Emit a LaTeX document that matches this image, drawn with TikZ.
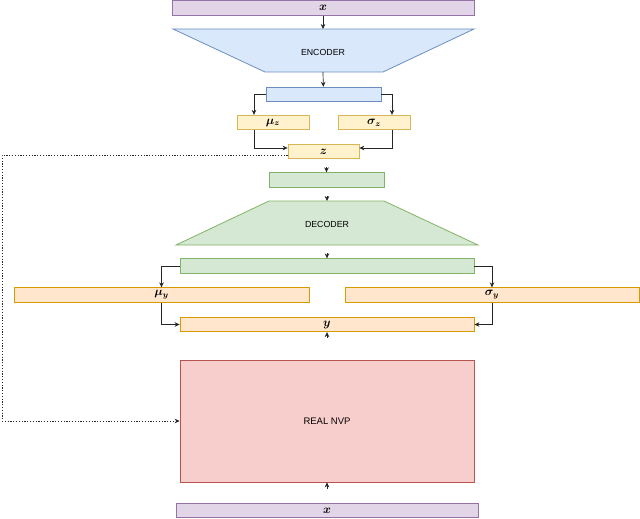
\documentclass[tikz,border=0pt]{standalone}
\usepackage{fontspec}
\setmainfont{Liberation Sans}
\usetikzlibrary{arrows.meta}
\definecolor{purplefill}{HTML}{E1D5E7}
\definecolor{purpleline}{HTML}{9673A6}
\definecolor{bluefill}{HTML}{DAE8FC}
\definecolor{blueline}{HTML}{6C8EBF}
\definecolor{greenfill}{HTML}{D5E8D4}
\definecolor{greenline}{HTML}{82B366}
\definecolor{yellowfill}{HTML}{FFF2CC}
\definecolor{yellowline}{HTML}{D6B656}
\definecolor{orangefill}{HTML}{FFE6CC}
\definecolor{orangeline}{HTML}{D79B00}
\definecolor{redfill}{HTML}{F8CECC}
\definecolor{redline}{HTML}{B85450}
\tikzset{
  bar/.style={draw, line width=0.8pt, inner sep=0pt, minimum height=14.5pt, font=\fontsize{12}{14}\selectfont\boldmath},
  inputbar/.style={bar, fill=purplefill, draw=purpleline},
  encbar/.style={bar, fill=bluefill, draw=blueline},
  latentbar/.style={bar, fill=yellowfill, draw=yellowline},
  decbar/.style={bar, fill=greenfill, draw=greenline},
  outbar/.style={bar, fill=orangefill, draw=orangeline},
  label/.style={font=\fontsize{8.8}{10}\selectfont, inner sep=0pt},
  link/.style={->, line width=0.7pt, draw=black!85}
}
\begin{document}
\begin{tikzpicture}[x=1pt, y=-1pt, >={Stealth[length=5pt,width=4.6pt]}]
\useasboundingbox (0,0) rectangle (640,519);
% encoder part
\node[inputbar, minimum width=302pt] (xtop) at (323,8) {$x$};
\filldraw[fill=bluefill, draw=blueline, line width=0.8pt] (173,29) -- (474,29) -- (383,72) -- (265,72) -- cycle;
\node[label] (enc) at (323,52) {ENCODER};
\coordinate (enctop) at (323,29);
\coordinate (encbot) at (323,72);
\node[encbar, minimum width=115pt] (encout) at (323.5,94.5) {};
\node[latentbar, minimum width=72pt] (muz) at (273,122.5) {$\mu_z$};
\node[latentbar, minimum width=72pt] (sigz) at (374,122.5) {$\sigma_z$};
\node[latentbar, minimum width=71pt] (z) at (323.5,151.5) {$z$};
% decoder part
\node[decbar, minimum width=115pt] (dec1) at (326.5,180) {};
\filldraw[fill=greenfill, draw=greenline, line width=0.8pt] (269,201) -- (384,201) -- (478,245) -- (176,245) -- cycle;
\node[label] (dec) at (327,224) {DECODER};
\coordinate (dectop) at (327,201);
\coordinate (decbot) at (327,245);
\node[decbar, minimum width=294pt] (dec2) at (327,266) {};
\node[outbar, minimum width=295pt] (muy) at (161.5,295) {$\mu_y$};
\node[outbar, minimum width=294pt] (sigy) at (492,295) {$\sigma_y$};
\node[outbar, minimum width=294pt] (y) at (327,324.5) {$y$};
% flow part
\node[draw=redline, fill=redfill, line width=0.8pt, minimum width=294pt, minimum height=122pt, font=\fontsize{9.5}{11}\selectfont] (nvp) at (327,421) {REAL NVP};
\node[inputbar, minimum width=302pt] (xbot) at (327,510.5) {$x$};
\coordinate (loop) at (2,300);
% connectors
\draw[link] (xtop) -- (enctop);
\draw[link] (encbot) -- (encout);
\draw[link] (encout.west) -| ([xshift=-19pt]muz.north);
\draw[link] (encout.east) -| ([xshift=18pt]sigz.north);
\draw[link] ([xshift=-19pt]muz.south) |- ([yshift=3.5pt]z.west);
\draw[link] ([xshift=18pt]sigz.south) |- ([yshift=3.5pt]z.east);
\draw[link, shorten <=8pt] (z.south -| dec1.north) -- (dec1.north);
\draw[link, shorten <=8pt] (dec1.south -| dectop) -- (dectop);
\draw[link, shorten <=8pt] (decbot) -- (decbot |- dec2.north);
\draw[link] (dec2.west) -| (muy.north);
\draw[link] (dec2.east) -| (sigy.north);
\draw[link] (muy.south) |- (y.west);
\draw[link] (sigy.south) |- (y.east);
\draw[link, shorten <=22pt] (nvp) -- (y);
\draw[link, shorten <=14pt] (xbot) -- (nvp);
\draw[link, dash pattern=on 1.2pt off 1.6pt] ([yshift=-3.5pt]z.west) -| (loop) |- (nvp.west);
\end{tikzpicture}
\end{document}
